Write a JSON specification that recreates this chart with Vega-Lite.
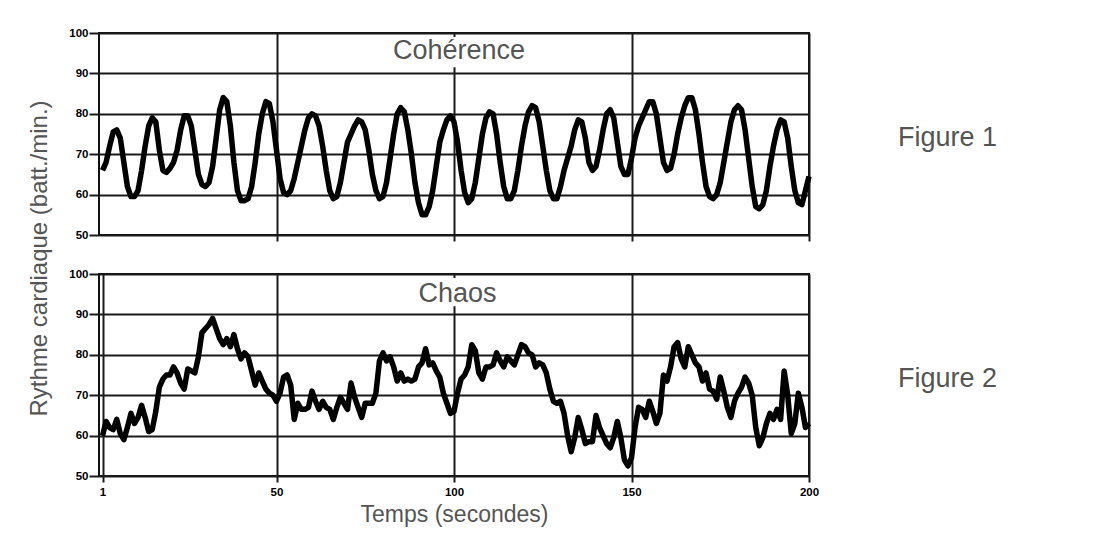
{
"$schema": "https://vega.github.io/schema/vega-lite/v6.json",
"background": "white",
"padding": {"left": 26, "top": 26, "right": 0, "bottom": 0},
"autosize": {"type": "pad"},
"bounds": "flush",
"spacing": 39,
"datasets": {
"coherence": [
{"t":1,"bpm":66},{"t":2,"bpm":68},{"t":3,"bpm":72},{"t":4,"bpm":75.5},{"t":5,"bpm":76},{"t":6,"bpm":74},{"t":7,"bpm":68},{"t":8,"bpm":62},{"t":9,"bpm":59.5},{"t":10,"bpm":59.5},
{"t":11,"bpm":61},{"t":12,"bpm":66},{"t":13,"bpm":72},{"t":14,"bpm":77},{"t":15,"bpm":79},{"t":16,"bpm":78},{"t":17,"bpm":71},{"t":18,"bpm":66},{"t":19,"bpm":65.5},{"t":20,"bpm":66.5},
{"t":21,"bpm":68},{"t":22,"bpm":71},{"t":23,"bpm":76},{"t":24,"bpm":79.5},{"t":25,"bpm":79.5},{"t":26,"bpm":77},{"t":27,"bpm":71},{"t":28,"bpm":65},{"t":29,"bpm":62.5},{"t":30,"bpm":62},
{"t":31,"bpm":63},{"t":32,"bpm":67},{"t":33,"bpm":74},{"t":34,"bpm":81},{"t":35,"bpm":84},{"t":36,"bpm":83},{"t":37,"bpm":77},{"t":38,"bpm":68},{"t":39,"bpm":61},{"t":40,"bpm":58.5},
{"t":41,"bpm":58.5},{"t":42,"bpm":59},{"t":43,"bpm":62},{"t":44,"bpm":68},{"t":45,"bpm":75},{"t":46,"bpm":80},{"t":47,"bpm":83},{"t":48,"bpm":82.5},{"t":49,"bpm":78},{"t":50,"bpm":71},
{"t":51,"bpm":64},{"t":52,"bpm":60.5},{"t":53,"bpm":60},{"t":54,"bpm":61},{"t":55,"bpm":64},{"t":56,"bpm":68},{"t":57,"bpm":72},{"t":58,"bpm":76},{"t":59,"bpm":79},{"t":60,"bpm":80},
{"t":61,"bpm":79.5},{"t":62,"bpm":77},{"t":63,"bpm":72},{"t":64,"bpm":66},{"t":65,"bpm":61},{"t":66,"bpm":59},{"t":67,"bpm":59.5},{"t":68,"bpm":63},{"t":69,"bpm":68},{"t":70,"bpm":73},
{"t":71,"bpm":75},{"t":72,"bpm":77},{"t":73,"bpm":78.5},{"t":74,"bpm":78},{"t":75,"bpm":76},{"t":76,"bpm":71},{"t":77,"bpm":65},{"t":78,"bpm":61},{"t":79,"bpm":59},{"t":80,"bpm":59.5},
{"t":81,"bpm":63},{"t":82,"bpm":69},{"t":83,"bpm":75},{"t":84,"bpm":80},{"t":85,"bpm":81.5},{"t":86,"bpm":80.5},{"t":87,"bpm":76},{"t":88,"bpm":70},{"t":89,"bpm":63},{"t":90,"bpm":58},
{"t":91,"bpm":55},{"t":92,"bpm":55},{"t":93,"bpm":57},{"t":94,"bpm":61},{"t":95,"bpm":67},{"t":96,"bpm":73},{"t":97,"bpm":76},{"t":98,"bpm":78.5},{"t":99,"bpm":79.5},{"t":100,"bpm":78},
{"t":101,"bpm":73},{"t":102,"bpm":66},{"t":103,"bpm":60.5},{"t":104,"bpm":58},{"t":105,"bpm":59},{"t":106,"bpm":63},{"t":107,"bpm":69},{"t":108,"bpm":75},{"t":109,"bpm":79},{"t":110,"bpm":80.5},
{"t":111,"bpm":80},{"t":112,"bpm":75},{"t":113,"bpm":68},{"t":114,"bpm":62},{"t":115,"bpm":59},{"t":116,"bpm":59},{"t":117,"bpm":61},{"t":118,"bpm":66},{"t":119,"bpm":72},{"t":120,"bpm":77},
{"t":121,"bpm":80.5},{"t":122,"bpm":82},{"t":123,"bpm":81.5},{"t":124,"bpm":78},{"t":125,"bpm":72},{"t":126,"bpm":66},{"t":127,"bpm":61},{"t":128,"bpm":59},{"t":129,"bpm":59},{"t":130,"bpm":62},
{"t":131,"bpm":66},{"t":132,"bpm":69},{"t":133,"bpm":72},{"t":134,"bpm":76},{"t":135,"bpm":78.5},{"t":136,"bpm":78},{"t":137,"bpm":74},{"t":138,"bpm":68},{"t":139,"bpm":66},{"t":140,"bpm":67},
{"t":141,"bpm":71},{"t":142,"bpm":76},{"t":143,"bpm":80},{"t":144,"bpm":81},{"t":145,"bpm":79},{"t":146,"bpm":73},{"t":147,"bpm":67},{"t":148,"bpm":65},{"t":149,"bpm":65},{"t":150,"bpm":69},
{"t":151,"bpm":74},{"t":152,"bpm":77},{"t":153,"bpm":79},{"t":154,"bpm":81},{"t":155,"bpm":83},{"t":156,"bpm":83},{"t":157,"bpm":80},{"t":158,"bpm":74},{"t":159,"bpm":68},{"t":160,"bpm":66},
{"t":161,"bpm":66.5},{"t":162,"bpm":70},{"t":163,"bpm":75},{"t":164,"bpm":79},{"t":165,"bpm":82},{"t":166,"bpm":84},{"t":167,"bpm":84},{"t":168,"bpm":81},{"t":169,"bpm":75},{"t":170,"bpm":68},
{"t":171,"bpm":62},{"t":172,"bpm":59.5},{"t":173,"bpm":59},{"t":174,"bpm":60},{"t":175,"bpm":63},{"t":176,"bpm":68},{"t":177,"bpm":73},{"t":178,"bpm":78},{"t":179,"bpm":81},{"t":180,"bpm":82},
{"t":181,"bpm":81},{"t":182,"bpm":76},{"t":183,"bpm":69},{"t":184,"bpm":62},{"t":185,"bpm":57},{"t":186,"bpm":56.5},{"t":187,"bpm":57.5},{"t":188,"bpm":61},{"t":189,"bpm":67},{"t":190,"bpm":72},
{"t":191,"bpm":76},{"t":192,"bpm":78.5},{"t":193,"bpm":78},{"t":194,"bpm":74},{"t":195,"bpm":67},{"t":196,"bpm":61},{"t":197,"bpm":58},{"t":198,"bpm":57.5},{"t":199,"bpm":61},{"t":200,"bpm":64.5}
],
"chaos": [
{"t":1,"bpm":60},{"t":2,"bpm":63.5},{"t":3,"bpm":62},{"t":4,"bpm":61.5},{"t":5,"bpm":64},{"t":6,"bpm":60.5},{"t":7,"bpm":59},{"t":8,"bpm":62},{"t":9,"bpm":65.5},{"t":10,"bpm":63},
{"t":11,"bpm":64.5},{"t":12,"bpm":67.5},{"t":13,"bpm":64.5},{"t":14,"bpm":61},{"t":15,"bpm":61.5},{"t":16,"bpm":66},{"t":17,"bpm":72},{"t":18,"bpm":74},{"t":19,"bpm":75},{"t":20,"bpm":75},
{"t":21,"bpm":77},{"t":22,"bpm":75.5},{"t":23,"bpm":73},{"t":24,"bpm":71.5},{"t":25,"bpm":76.5},{"t":26,"bpm":76},{"t":27,"bpm":75.5},{"t":28,"bpm":79.5},{"t":29,"bpm":85.5},{"t":30,"bpm":86.5},
{"t":31,"bpm":87.5},{"t":32,"bpm":89},{"t":33,"bpm":86.5},{"t":34,"bpm":84},{"t":35,"bpm":82.5},{"t":36,"bpm":84},{"t":37,"bpm":82},{"t":38,"bpm":85},{"t":39,"bpm":81.5},{"t":40,"bpm":79},
{"t":41,"bpm":80.5},{"t":42,"bpm":79.5},{"t":43,"bpm":76},{"t":44,"bpm":72.5},{"t":45,"bpm":75.5},{"t":46,"bpm":73.5},{"t":47,"bpm":71.5},{"t":48,"bpm":70.5},{"t":49,"bpm":70},{"t":50,"bpm":68.5},
{"t":51,"bpm":70.5},{"t":52,"bpm":74.5},{"t":53,"bpm":75},{"t":54,"bpm":72.5},{"t":55,"bpm":64},{"t":56,"bpm":68},{"t":57,"bpm":66.5},{"t":58,"bpm":66.5},{"t":59,"bpm":67},{"t":60,"bpm":71},
{"t":61,"bpm":68.5},{"t":62,"bpm":66.5},{"t":63,"bpm":68.5},{"t":64,"bpm":67},{"t":65,"bpm":66.5},{"t":66,"bpm":64},{"t":67,"bpm":67},{"t":68,"bpm":69.5},{"t":69,"bpm":68},{"t":70,"bpm":66.5},
{"t":71,"bpm":73},{"t":72,"bpm":69.5},{"t":73,"bpm":67},{"t":74,"bpm":64.5},{"t":75,"bpm":68},{"t":76,"bpm":68},{"t":77,"bpm":68},{"t":78,"bpm":70.5},{"t":79,"bpm":78.5},{"t":80,"bpm":80.5},
{"t":81,"bpm":78.5},{"t":82,"bpm":79.5},{"t":83,"bpm":77},{"t":84,"bpm":73.5},{"t":85,"bpm":75.5},{"t":86,"bpm":73.5},{"t":87,"bpm":74},{"t":88,"bpm":73.5},{"t":89,"bpm":74},{"t":90,"bpm":77},
{"t":91,"bpm":78},{"t":92,"bpm":81.5},{"t":93,"bpm":77.5},{"t":94,"bpm":78},{"t":95,"bpm":76},{"t":96,"bpm":74.5},{"t":97,"bpm":70.5},{"t":98,"bpm":68},{"t":99,"bpm":65.5},{"t":100,"bpm":66},
{"t":101,"bpm":70.5},{"t":102,"bpm":74},{"t":103,"bpm":75},{"t":104,"bpm":77},{"t":105,"bpm":82.5},{"t":106,"bpm":81},{"t":107,"bpm":75.5},{"t":108,"bpm":74},{"t":109,"bpm":77},{"t":110,"bpm":77},
{"t":111,"bpm":77.5},{"t":112,"bpm":80.5},{"t":113,"bpm":78.5},{"t":114,"bpm":77},{"t":115,"bpm":79.5},{"t":116,"bpm":78.5},{"t":117,"bpm":77.5},{"t":118,"bpm":80},{"t":119,"bpm":82.5},{"t":120,"bpm":82},
{"t":121,"bpm":80.5},{"t":122,"bpm":80},{"t":123,"bpm":77},{"t":124,"bpm":78},{"t":125,"bpm":77.5},{"t":126,"bpm":75.5},{"t":127,"bpm":71.5},{"t":128,"bpm":68.5},{"t":129,"bpm":68},{"t":130,"bpm":68.5},
{"t":131,"bpm":65.5},{"t":132,"bpm":60},{"t":133,"bpm":56},{"t":134,"bpm":59.5},{"t":135,"bpm":64.5},{"t":136,"bpm":61.5},{"t":137,"bpm":58},{"t":138,"bpm":58.5},{"t":139,"bpm":58.5},{"t":140,"bpm":65},
{"t":141,"bpm":62},{"t":142,"bpm":60},{"t":143,"bpm":58},{"t":144,"bpm":57},{"t":145,"bpm":59.5},{"t":146,"bpm":63.5},{"t":147,"bpm":59.5},{"t":148,"bpm":54},{"t":149,"bpm":52.5},{"t":150,"bpm":54.5},
{"t":151,"bpm":62},{"t":152,"bpm":67},{"t":153,"bpm":66.5},{"t":154,"bpm":64.5},{"t":155,"bpm":68.5},{"t":156,"bpm":66},{"t":157,"bpm":63},{"t":158,"bpm":65.5},{"t":159,"bpm":75},{"t":160,"bpm":73.5},
{"t":161,"bpm":77},{"t":162,"bpm":82},{"t":163,"bpm":83},{"t":164,"bpm":79},{"t":165,"bpm":77},{"t":166,"bpm":82},{"t":167,"bpm":80},{"t":168,"bpm":78},{"t":169,"bpm":77},{"t":170,"bpm":73.5},
{"t":171,"bpm":75.5},{"t":172,"bpm":71.5},{"t":173,"bpm":71},{"t":174,"bpm":69},{"t":175,"bpm":74.5},{"t":176,"bpm":71},{"t":177,"bpm":67},{"t":178,"bpm":64.5},{"t":179,"bpm":68.5},{"t":180,"bpm":70.5},
{"t":181,"bpm":72},{"t":182,"bpm":74.5},{"t":183,"bpm":73},{"t":184,"bpm":70},{"t":185,"bpm":62},{"t":186,"bpm":57.5},{"t":187,"bpm":59.5},{"t":188,"bpm":63},{"t":189,"bpm":65.5},{"t":190,"bpm":64},
{"t":191,"bpm":66.5},{"t":192,"bpm":64},{"t":193,"bpm":76},{"t":194,"bpm":70},{"t":195,"bpm":60.5},{"t":196,"bpm":63},{"t":197,"bpm":70.5},{"t":198,"bpm":67},{"t":199,"bpm":62},{"t":200,"bpm":63}
]
},
"config": {
  "font": "Liberation Sans",
  "view": {"stroke": "#111111", "strokeWidth": 2},
  "axis": {
    "gridColor": "#1a1a1a", "gridWidth": 2, "gridOpacity": 1,
    "tickColor": "#1a1a1a", "tickWidth": 2, "domain": false,
    "labelFont": "Liberation Sans", "labelFontWeight": "bold", "labelFontSize": 11.5, "labelColor": "#000000",
    "titleFont": "Liberation Sans", "titleFontWeight": "normal", "titleColor": "#555555"
  }
},
"vconcat": [
{
  "width": 710, "height": 202,
  "layer": [
    {
      "data": {"values": [{"label": "Cohérence"}]},
      "mark": {"type": "rect", "fill": "white"},
      "encoding": {"x": {"datum": 82}, "x2": {"datum": 121}, "y": {"datum": 99}, "y2": {"datum": 91.5}}
    },
    {
      "data": {"name": "coherence"},
      "mark": {"type": "line", "color": "black", "strokeWidth": 5.5, "strokeJoin": "round"},
      "encoding": {
        "x": {"field": "t", "type": "quantitative", "scale": {"domain": [0, 200], "nice": false},
              "axis": {"values": [50, 100, 150, 200], "grid": true, "labels": false, "tickSize": 6, "title": null}},
        "y": {"field": "bpm", "type": "quantitative", "scale": {"domain": [50, 100], "nice": false, "zero": false},
              "axis": {"values": [50, 60, 70, 80, 90, 100], "grid": true, "tickSize": 10, "labelPadding": 1,
                       "title": "Rythme cardiaque (batt./min.)", "titleFontSize": 24, "titleX": -53, "titleY": 225,
                       "titleAngle": -90, "titleAlign": "center", "titleBaseline": "alphabetic"}}
      }
    },
    {
      "data": {"values": [{"label": "Cohérence"}]},
      "mark": {"type": "text", "fontSize": 27, "color": "#555555", "baseline": "middle", "align": "center"},
      "encoding": {"text": {"field": "label"}, "x": {"datum": 101.4}, "y": {"datum": 95.5}}
    },
    {
      "data": {"values": [{"label": "Figure 1"}]},
      "mark": {"type": "text", "fontSize": 27, "color": "#555555", "baseline": "middle", "align": "center"},
      "encoding": {"text": {"field": "label"}, "x": {"datum": 239}, "y": {"datum": 74}}
    }
  ]
},
{
  "width": 710, "height": 202,
  "layer": [
    {
      "data": {"values": [{"label": "Chaos"}]},
      "mark": {"type": "rect", "fill": "white"},
      "encoding": {"x": {"datum": 89}, "x2": {"datum": 113}, "y": {"datum": 99}, "y2": {"datum": 92}}
    },
    {
      "data": {"name": "chaos"},
      "mark": {"type": "line", "color": "black", "strokeWidth": 5.5, "strokeJoin": "round"},
      "encoding": {
        "x": {"field": "t", "type": "quantitative", "scale": {"domain": [0, 200], "nice": false},
              "axis": {"values": [1, 50, 100, 150, 200], "grid": true, "tickSize": 6, "labelPadding": 4, "labelFlush": false,
                       "title": "Temps (secondes)", "titleFontSize": 23, "titlePadding": 6}},
        "y": {"field": "bpm", "type": "quantitative", "scale": {"domain": [50, 100], "nice": false, "zero": false},
              "axis": {"values": [50, 60, 70, 80, 90, 100], "grid": true, "tickSize": 10, "labelPadding": 1, "title": null}}
      }
    },
    {
      "data": {"values": [{"label": "Chaos"}]},
      "mark": {"type": "text", "fontSize": 27, "color": "#555555", "baseline": "middle", "align": "center"},
      "encoding": {"text": {"field": "label"}, "x": {"datum": 101}, "y": {"datum": 95}}
    },
    {
      "data": {"values": [{"label": "Figure 2"}]},
      "mark": {"type": "text", "fontSize": 27, "color": "#555555", "baseline": "middle", "align": "center"},
      "encoding": {"text": {"field": "label"}, "x": {"datum": 239}, "y": {"datum": 74}}
    }
  ]
}
]
}
